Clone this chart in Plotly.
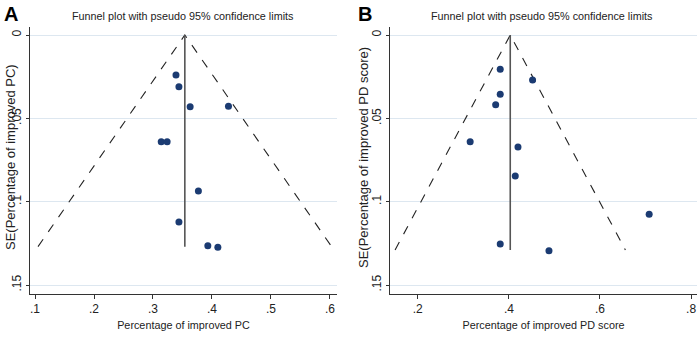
import plotly.graph_objects as go

# Panel A data
a_effect = [0.339, 0.344, 0.363, 0.428, 0.314, 0.324, 0.377, 0.344, 0.393, 0.410]
a_se = [0.024, 0.031, 0.043, 0.0428, 0.064, 0.064, 0.0936, 0.1122, 0.1264, 0.1274]
a_pooled = 0.354
a_maxse = 0.127
a_xticks = [0.1, 0.2, 0.3, 0.4, 0.5, 0.6]
a_xticklabels = [".1", ".2", ".3", ".4", ".5", ".6"]

# Panel B data
b_effect = [0.381, 0.452, 0.381, 0.371, 0.315, 0.420, 0.414, 0.708, 0.381, 0.488]
b_se = [0.0206, 0.027, 0.0356, 0.0418, 0.064, 0.0672, 0.0846, 0.1076, 0.1254, 0.1294]
b_pooled = 0.403
b_maxse = 0.129
b_xticks = [0.2, 0.4, 0.6, 0.8]
b_xticklabels = [".2", ".4", ".6", ".8"]

yticks = [0, 0.05, 0.1, 0.15]
yticklabels = ["0", ".05", ".1", ".15"]

title_text = "Funnel plot with pseudo 95% confidence limits"
a_xtitle = "Percentage of improved PC"
a_ytitle = "SE(Percentage of improved PC)"
b_xtitle = "Percentage of improved PD score"
b_ytitle = "SE(Percentage of improved PD score)"

W, H = 699, 338
FONT = "Liberation Sans, Arial, sans-serif"
MARK = "#1b3b72"
TXT = "#222222"

fig = go.Figure()

def add_panel(suffix, effect, se, pooled, maxse):
    xa = "x" if suffix == "" else "x" + suffix
    ya = "y" if suffix == "" else "y" + suffix
    fig.add_trace(go.Scatter(
        x=[pooled - 1.96 * maxse, pooled, pooled + 1.96 * maxse],
        y=[maxse, 0, maxse], mode="lines",
        line=dict(color="#222222", width=1.1, dash="dash"),
        xaxis=xa, yaxis=ya, showlegend=False, hoverinfo="skip"))
    fig.add_trace(go.Scatter(
        x=[pooled, pooled], y=[0, maxse], mode="lines",
        line=dict(color="#555555", width=1.6),
        xaxis=xa, yaxis=ya, showlegend=False, hoverinfo="skip"))
    fig.add_trace(go.Scatter(
        x=effect, y=se, mode="markers",
        marker=dict(color=MARK, size=7),
        xaxis=xa, yaxis=ya, showlegend=False))

add_panel("", a_effect, a_se, a_pooled, a_maxse)
add_panel("2", b_effect, b_se, b_pooled, b_maxse)

ydom = [1 - 294 / H, 1 - 27 / H]
yrange = [0.1554, -0.0048]

common_x = dict(showgrid=False, zeroline=False, showline=True, linecolor="#333333",
                linewidth=1, ticks="outside", ticklen=4, tickcolor="#333333",
                tickfont=dict(family=FONT, size=12, color=TXT),
                title_font=dict(family=FONT, size=10.8, color=TXT),
                title_standoff=6, automargin=False)
common_y = dict(showgrid=True, gridcolor="#dde7f0", gridwidth=1, zeroline=False,
                showline=True, linecolor="#333333", linewidth=1,
                ticks="outside", ticklen=3, tickcolor="#333333",
                tickvals=yticks, ticktext=yticklabels, tickangle=-90,
                tickfont=dict(family=FONT, size=12, color=TXT),
                range=yrange, domain=ydom, automargin=False)

ymid = 1 - 157 / H

fig.update_layout(
    width=W, height=H,
    margin=dict(l=0, r=0, t=0, b=0, autoexpand=False),
    paper_bgcolor="white", plot_bgcolor="white",
    xaxis=dict(common_x, domain=[30 / W, 337 / W], range=[0.0915, 0.612],
               tickvals=a_xticks, ticktext=a_xticklabels,
               title_text=a_xtitle, anchor="y"),
    yaxis=dict(common_y, anchor="x"),
    xaxis2=dict(common_x, domain=[390 / W, 697 / W], range=[0.139, 0.813],
                tickvals=b_xticks, ticktext=b_xticklabels,
                title_text=b_xtitle, anchor="y2"),
    yaxis2=dict(common_y, anchor="x2"),
    annotations=[
        dict(text=title_text, x=183 / W, y=1 - 16 / H, xref="paper", yref="paper",
             xanchor="center", yanchor="middle",
             showarrow=False, font=dict(family=FONT, size=10.8, color=TXT)),
        dict(text=title_text, x=542 / W, y=1 - 16 / H, xref="paper", yref="paper",
             xanchor="center", yanchor="middle",
             showarrow=False, font=dict(family=FONT, size=10.8, color=TXT)),
        dict(text=a_ytitle, x=10 / W, y=ymid, xref="paper", yref="paper",
             xanchor="center", yanchor="middle", textangle=-90,
             showarrow=False, font=dict(family=FONT, size=13, color=TXT)),
        dict(text=b_ytitle, x=363 / W, y=ymid, xref="paper", yref="paper",
             xanchor="center", yanchor="middle", textangle=-90,
             showarrow=False, font=dict(family=FONT, size=13, color=TXT)),
        dict(text="<b>A</b>", x=2 / W, y=1 - 1 / H, xref="paper", yref="paper",
             xanchor="left", yanchor="top", showarrow=False,
             font=dict(family=FONT, size=20, color="black")),
        dict(text="<b>B</b>", x=356 / W, y=1 - 1 / H, xref="paper", yref="paper",
             xanchor="left", yanchor="top", showarrow=False,
             font=dict(family=FONT, size=20, color="black")),
    ],
)

fig.write_html("out.html", config={"displayModeBar": False},
               post_script="document.body.style.margin='0';document.body.style.padding='0';")
